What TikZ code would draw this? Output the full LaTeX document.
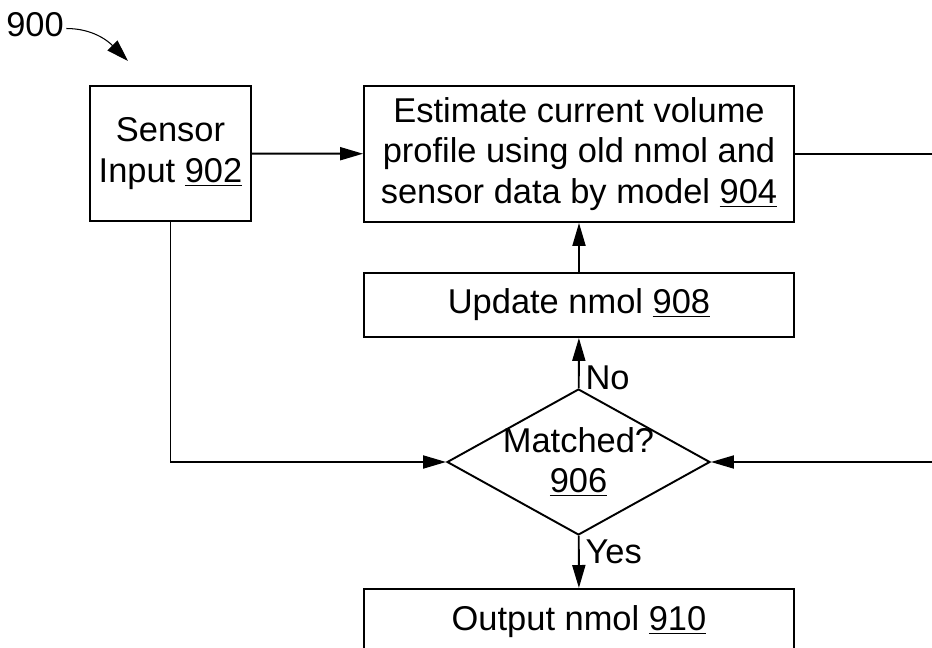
\documentclass[tikz,border=0pt]{standalone}
\usepackage{fontspec}
\setmainfont{Liberation Sans}
\usetikzlibrary{arrows.meta,shapes.geometric}
\newcommand{\refno}[1]{\underline{#1}}
\begin{document}
\begin{tikzpicture}[x=0.02cm,y=-0.02cm,line width=1.1pt,
    >={Triangle[length=0.46cm,width=0.26cm]},
    every node/.style={font=\fontsize{19.6}{23}\selectfont},
    box/.style={draw,align=center,inner sep=2pt},
    decision/.style={draw,diamond,aspect=1.8,inner sep=-3pt,align=center,
      minimum width=5.26cm,minimum height=2.92cm}]
  \useasboundingbox (0,0) rectangle (932,648);
  \node[inner sep=1pt] (fig) at (35,25) {900};
  \coordinate (figtip) at (128,61);
  \node[box,minimum width=3.22cm,minimum height=2.7cm] (sensor) at (170.5,153.5) {Sensor\\Input \refno{902}};
  \node[box,minimum width=8.6cm,minimum height=2.72cm] (estimate) at (579,154) {Estimate current volume\\profile using old nmol and\\sensor data by model \refno{904}};
  \node[box,minimum width=8.6cm,minimum height=1.28cm] (update) at (579,305) {Update nmol \refno{908}};
  \node[decision] (match) at (578.5,462) {Matched?\\\refno{906}};
  \node[box,anchor=north,minimum width=8.6cm,minimum height=1.3cm] (output) at (579,588) {Output nmol \refno{910}};
  \coordinate (rtop) at (932,154);
  \coordinate (rbot) at (932,462);
  \draw[-{Triangle[length=0.44cm,width=0.28cm]},line width=0.6pt] ([yshift=-2pt]fig.east) to[out=0,in=135] (figtip);
  \draw[->] (sensor) -- (estimate);
  \draw (estimate) -- (rtop);
  \draw[->] (update) -- (estimate);
  \draw[->] (match) -- node[pos=0.2,right] {No} (update);
  \draw[->] (match) -- node[pos=0.3,right] {Yes} (output);
  \draw[->] (sensor.south) |- (match.west);
  \draw[->] (rbot) -- (match.east);
\end{tikzpicture}
\end{document}
